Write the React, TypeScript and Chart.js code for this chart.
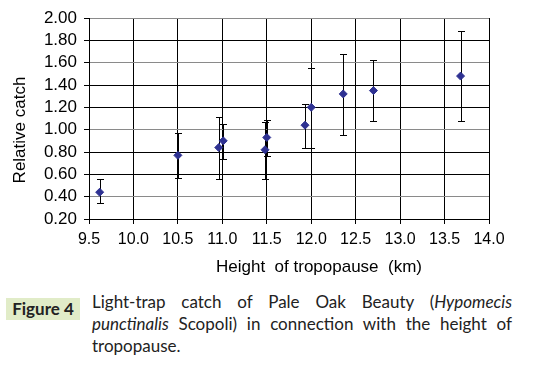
import React, { useEffect, useRef } from "react";
import { Chart, registerables } from "chart.js";

Chart.register(...registerables);

const heights = [9.62, 10.5, 10.96, 11.01, 11.48, 11.5, 11.93, 12.0, 12.36, 12.7, 13.68];
const catches = [0.44, 0.77, 0.84, 0.9, 0.82, 0.93, 1.04, 1.2, 1.32, 1.35, 1.48];
const lowBounds = [0.34, 0.57, 0.56, 0.74, 0.56, 0.76, 0.84, 0.84, 0.95, 1.08, 1.08];
const highBounds = [0.56, 0.97, 1.11, 1.05, 1.07, 1.09, 1.23, 1.55, 1.68, 1.62, 1.88];
const grayGridValues = [2.0, 1.6, 1.0, 0.4];
const xTitle = "Height  of tropopause  (km)";
const yTitle = "Relative catch";

const FONT = "'Liberation Sans', Arial, sans-serif";

const errorBarPlugin = {
  id: "errorBars",
  beforeDatasetsDraw(chart: any) {
    const { ctx, scales } = chart;
    const xs = scales.x;
    const ys = scales.y;
    ctx.save();
    ctx.strokeStyle = "#000";
    ctx.lineWidth = 1;
    for (let i = 0; i < heights.length; i++) {
      const x = Math.round(xs.getPixelForValue(heights[i])) + 0.5;
      const yl = Math.round(ys.getPixelForValue(lowBounds[i])) + 0.5;
      const yh = Math.round(ys.getPixelForValue(highBounds[i])) + 0.5;
      ctx.beginPath();
      ctx.moveTo(x, yl);
      ctx.lineTo(x, yh);
      ctx.moveTo(x - 3.5, yl);
      ctx.lineTo(x + 3.5, yl);
      ctx.moveTo(x - 3.5, yh);
      ctx.lineTo(x + 3.5, yh);
      ctx.stroke();
    }
    ctx.restore();
  },
};

const axisTitlePlugin = {
  id: "axisTitles",
  afterDraw(chart: any) {
    const { ctx, chartArea } = chart;
    ctx.save();
    ctx.fillStyle = "#000";
    ctx.font = `17px ${FONT}`;
    ctx.textAlign = "center";
    ctx.textBaseline = "middle";
    ctx.fillText(xTitle, chartArea.left + 230, chartArea.bottom + 48);
    ctx.translate(20, chartArea.top + 112);
    ctx.rotate(-Math.PI / 2);
    ctx.fillText(yTitle, 0, 0);
    ctx.restore();
  },
};

export default function App() {
  const ref = useRef<HTMLCanvasElement>(null);

  useEffect(() => {
    if (!ref.current) return;
    const chart = new Chart(ref.current, {
      type: "scatter",
      data: {
        datasets: [
          {
            data: heights.map((h, i) => ({ x: h, y: catches[i] })),
            pointStyle: "rectRot",
            pointRadius: 4,
            backgroundColor: "#2E3192",
            borderColor: "#2E3192",
            borderWidth: 1,
          },
        ],
      },
      options: {
        responsive: false,
        animation: false,
        devicePixelRatio: 1,
        layout: { padding: { top: 18, right: 57, left: 0, bottom: 0 } },
        plugins: {
          legend: { display: false },
          tooltip: { enabled: false },
        },
        scales: {
          x: {
            type: "linear",
            min: 9.5,
            max: 14.0,
            afterFit: (s: any) => {
              s.height = 63;
            },
            ticks: {
              stepSize: 0.5,
              autoSkip: false,
              maxRotation: 0,
              color: "#000",
              padding: 6,
              font: { family: FONT, size: 16 },
              callback: (v: any) => Number(v).toFixed(1),
            },
            grid: {
              color: "#000",
              tickColor: "#000",
              tickLength: 5,
              lineWidth: 1,
            },
            border: { color: "#000" },
          },
          y: {
            type: "linear",
            min: 0.2,
            max: 2.0,
            afterFit: (s: any) => {
              s.width = 89;
            },
            ticks: {
              stepSize: 0.2,
              autoSkip: false,
              color: "#000",
              padding: 7,
              font: { family: FONT, size: 17, lineHeight: 1 },
              callback: (v: any) => Number(v).toFixed(2),
            },
            grid: {
              color: (c: any) => {
                const v = c.tick ? c.tick.value : 0;
                return grayGridValues.some((g) => Math.abs(g - v) < 1e-6) ? "#8a8a8a" : "#000";
              },
              tickColor: "#000",
              tickLength: 5,
              lineWidth: 1,
            },
            border: { color: "#000" },
          },
        },
      },
      plugins: [errorBarPlugin, axisTitlePlugin],
    });
    return () => chart.destroy();
  }, []);

  const capFont = "Lato, 'Open Sans', sans-serif";

  return (
    <div style={{ position: "absolute", left: 0, top: 0, width: 546, height: 365, background: "#fff" }}>
      <canvas ref={ref} width={546} height={282} style={{ display: "block" }} />
      <div
        style={{
          position: "absolute",
          left: 6,
          top: 298,
          width: 74,
          height: 22,
          background: "#e1ecc8",
          fontFamily: capFont,
          fontWeight: 700,
          fontSize: 17,
          lineHeight: "22px",
          textAlign: "center",
          color: "#222",
        }}
      >
        Figure 4
      </div>
      <div
        style={{
          position: "absolute",
          left: 92,
          top: 291,
          width: 420,
          fontFamily: capFont,
          fontSize: 17,
          lineHeight: "22px",
          color: "#222",
        }}
      >
        <div style={{ textAlign: "justify", textAlignLast: "justify" }}>
          Light-trap catch of Pale Oak Beauty (<i>Hypomecis</i>
        </div>
        <div style={{ textAlign: "justify", textAlignLast: "justify" }}>
          <i>punctinalis</i> Scopoli) in connection with the height of
        </div>
        <div>tropopause.</div>
      </div>
    </div>
  );
}
